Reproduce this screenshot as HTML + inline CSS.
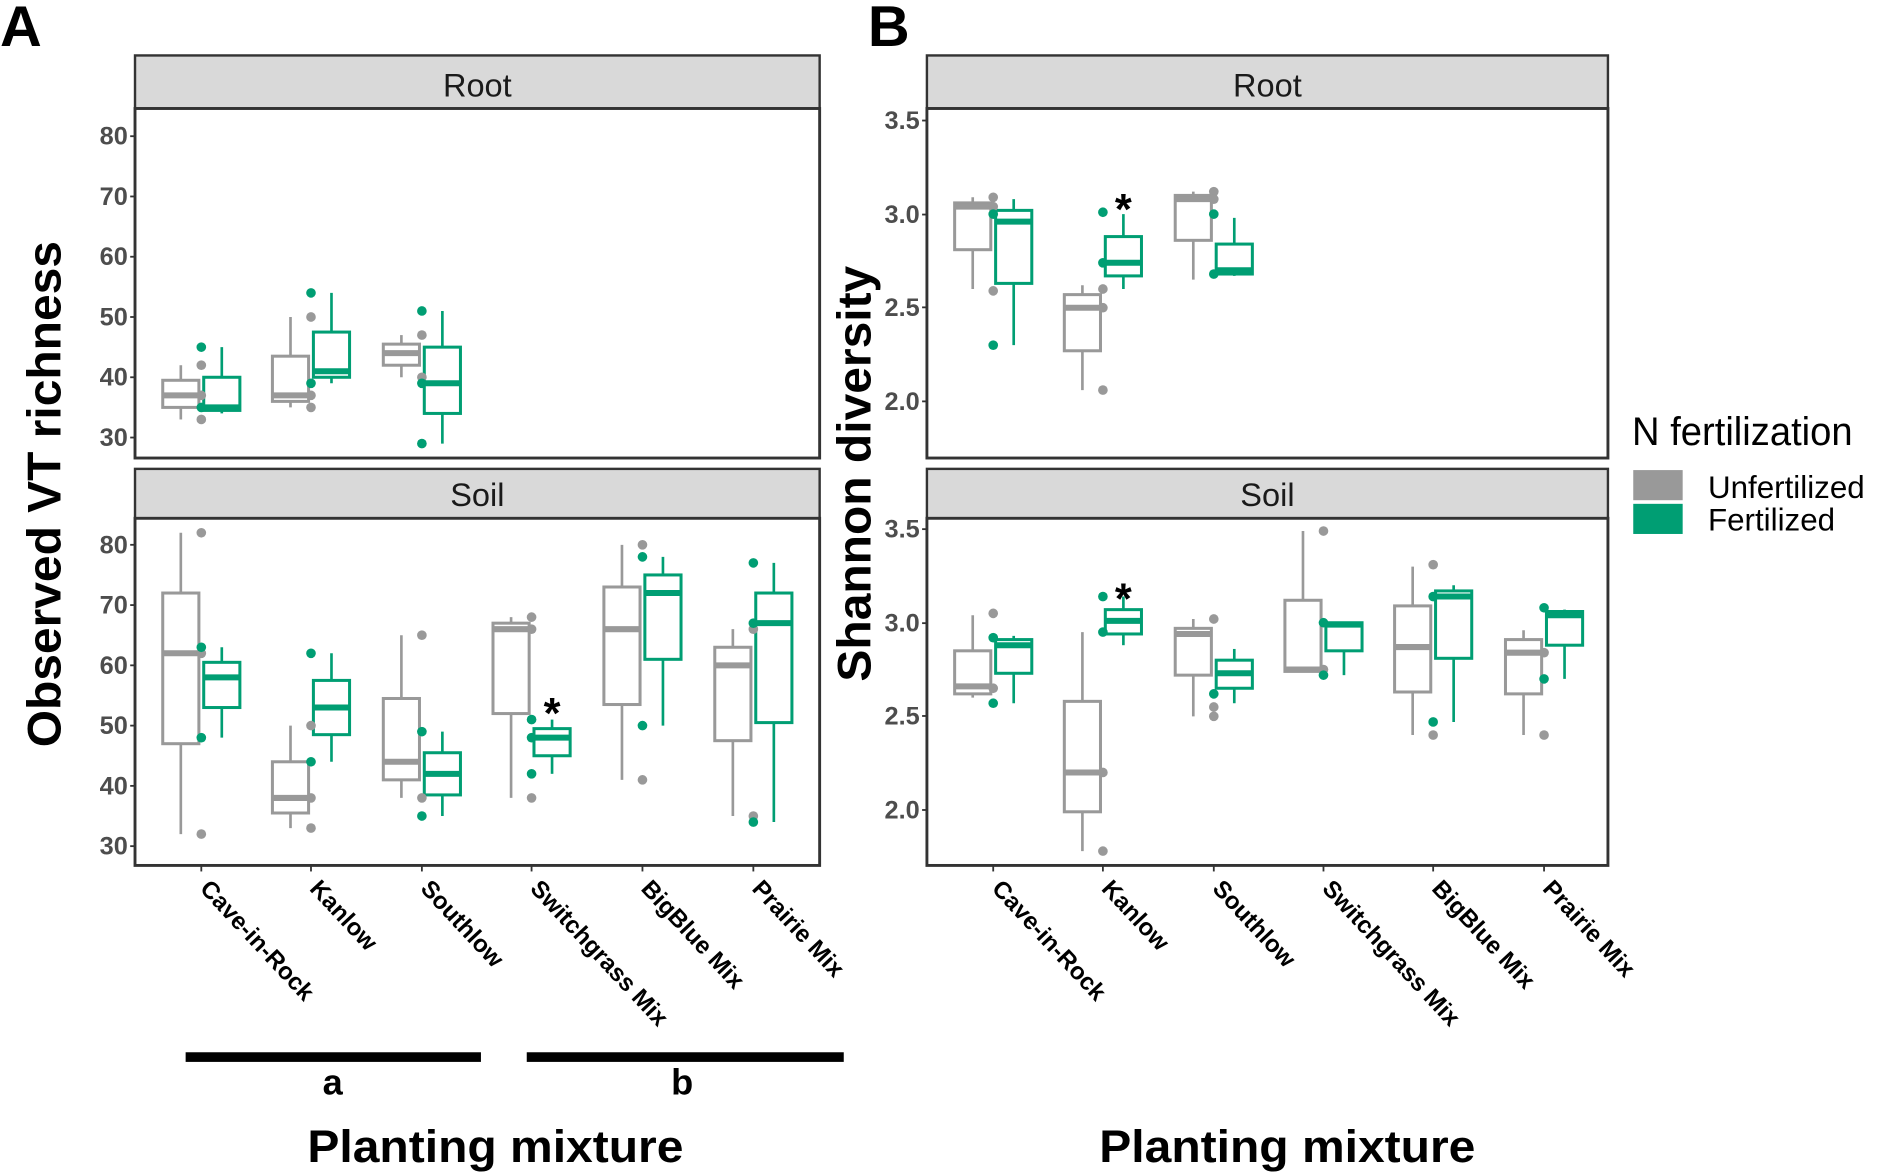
<!DOCTYPE html>
<html><head><meta charset="utf-8"><style>
html,body{margin:0;padding:0;background:#fff}
svg{display:block}
text{font-family:"Liberation Sans",Arial,sans-serif}
</style></head><body>
<svg id="s" width="1890" height="1174" viewBox="0 0 1568 974" xmlns="http://www.w3.org/2000/svg">
<rect width="1568" height="974" fill="#fff"/>
<text x="0" y="38" font-size="48" font-weight="bold">A</text>
<text x="720" y="38" font-size="48" font-weight="bold">B</text>
<text transform="translate(50,410) rotate(-90)" text-anchor="middle" font-size="39" font-weight="bold" textLength="420" lengthAdjust="spacingAndGlyphs">Observed VT richness</text>
<text transform="translate(722,393) rotate(-90)" text-anchor="middle" font-size="39" font-weight="bold" textLength="345" lengthAdjust="spacingAndGlyphs">Shannon diversity</text>
<text x="411" y="964" text-anchor="middle" font-size="38" font-weight="bold" textLength="312" lengthAdjust="spacingAndGlyphs">Planting mixture</text>
<text x="1068" y="964" text-anchor="middle" font-size="38" font-weight="bold" textLength="312" lengthAdjust="spacingAndGlyphs">Planting mixture</text>
<rect x="154" y="873" width="245" height="8" fill="#000"/>
<rect x="437" y="873" width="263" height="8" fill="#000"/>
<text x="276" y="908" text-anchor="middle" font-size="30" font-weight="bold">a</text>
<text x="566" y="908" text-anchor="middle" font-size="30" font-weight="bold">b</text>
<text x="1354" y="369" font-size="33" textLength="183" lengthAdjust="spacingAndGlyphs">N fertilization</text>
<rect x="1355" y="390" width="41" height="25" fill="#999"/>
<rect x="1355" y="418" width="41" height="25" fill="#009E73"/>
<text x="1417" y="413" font-size="26">Unfertilized</text>
<text x="1417" y="440" font-size="26">Fertilized</text>
<g id="g"></g>
</svg>
<script>
var G='#999999',N='#009E73',out='';
function strip(x0,x1,y0,y1,t){out+='<rect x="'+x0+'" y="'+y0+'" width="'+(x1-x0)+'" height="'+(y1-y0)+'" fill="#d9d9d9" stroke="#333" stroke-width="2"/>';
out+='<text x="'+((x0+x1)/2)+'" y="'+(y1-10)+'" text-anchor="middle" font-size="27" fill="#1a1a1a">'+t+'</text>';}
function panel(x0,x1,y0,y1){out+='<rect x="'+x0+'" y="'+y0+'" width="'+(x1-x0)+'" height="'+(y1-y0)+'" fill="none" stroke="#333" stroke-width="2.4"/>';}
function ticks(x0,ys,labs){for(var i=0;i<ys.length;i++){out+='<line x1="'+(x0-4)+'" x2="'+x0+'" y1="'+ys[i]+'" y2="'+ys[i]+'" stroke="#333" stroke-width="1.5"/>';
out+='<text x="'+(x0-6)+'" y="'+(ys[i]+7)+'" text-anchor="end" font-size="21" font-weight="bold" fill="#4d4d4d">'+labs[i]+'</text>';}}
function box(cx,c,f,b){var w=30,x=cx-w/2;
out+='<line x1="'+cx+'" x2="'+cx+'" y1="'+f(b[0])+'" y2="'+f(b[4])+'" stroke="'+c+'" stroke-width="2.2"/>';
out+='<rect x="'+x+'" y="'+f(b[3])+'" width="'+w+'" height="'+(f(b[1])-f(b[3]))+'" fill="#fff" stroke="'+c+'" stroke-width="2.5"/>';
out+='<line x1="'+x+'" x2="'+(x+w)+'" y1="'+f(b[2])+'" y2="'+f(b[2])+'" stroke="'+c+'" stroke-width="5"/>';}
function pts(cx,c,f,p){p.forEach(function(v){out+='<circle cx="'+cx+'" cy="'+f(v)+'" r="4" fill="'+c+'"/>';});}
function star(x,y){out+='<text x="'+x+'" y="'+y+'" text-anchor="middle" font-size="36" font-weight="bold">*</text>';}
function draw(cats,f,data){data.forEach(function(d,i){var c=cats[i];box(c-17,G,f,d[0]);box(c+17,N,f,d[2]);pts(c,G,f,d[1]);pts(c,N,f,d[3]);});}
strip(112,680,46,90,'Root');panel(112,680,90,380);
strip(112,680,389,430,'Soil');panel(112,680,430,718);
var ca=[167,258,350,441,533,625];
var fa1=function(v){return 113+(80-v)*5},fa2=function(v){return 452+(80-v)*5};
ticks(112,[113,163,213,263,313,363],[80,70,60,50,40,30]);
ticks(112,[452,502,552,602,652,702],[80,70,60,50,40,30]);
draw(ca,fa1,[
[[33,35,37,39.5,42],[42,37,33],[34,34.5,35,40,45],[45,35]],
[[35,36,37,43.5,50],[50,37,35],[39,40,41,47.5,54],[54,39]],
[[40,42,44,45.5,47],[47,40],[29,34,39,45,51],[51,39,29]]]);
draw(ca,fa2,[
[[32,47,62,72,82],[82,62,32],[48,53,58,60.5,63],[63,48]],
[[33,35.5,38,44,50],[50,38,33],[44,48.5,53,57.5,62],[62,44]],
[[38,41,44,54.5,65],[65,38],[35,38.5,42,45.5,49],[49,35]],
[[38,52,66,67,68],[68,66,38],[42,45,48,49.5,51],[51,48,42]],
[[41,53.5,66,73,80],[80,41],[50,61,72,75,78],[78,50]],
[[35,47.5,60,63,66],[66,35],[34,50.5,67,72,77],[77,67,34]]]);
star(458,604);
strip(769,1334,46,90,'Root');panel(769,1334,90,380);
strip(769,1334,389,430,'Soil');panel(769,1334,430,718);
var cb=[824,915,1007,1098,1189,1281];
var fb1=function(v){return 100+(3.5-v)*155.3},fb2=function(v){return 439+(3.5-v)*155.3};
ticks(769,[100,178,255,333],['3.5','3.0','2.5','2.0']);
ticks(769,[439,517,594,672],['3.5','3.0','2.5','2.0']);
draw(cb,fb1,[
[[2.6,2.81,3.04,3.06,3.09],[3.09,3.04,2.59],[2.3,2.63,2.96,3.02,3.08],[2.3,3.0]],
[[2.06,2.27,2.5,2.57,2.62],[2.06,2.6,2.5],[2.6,2.67,2.74,2.88,3.0],[3.01,2.74]],
[[2.65,2.86,3.08,3.1,3.12],[3.12,3.08],[2.67,2.68,2.7,2.84,2.98],[3.0,2.68]]]);
star(932,186);
draw(cb,fb2,[
[[2.6,2.62,2.66,2.85,3.04],[3.05,2.65],[2.57,2.73,2.88,2.91,2.93],[2.92,2.57]],
[[1.78,1.99,2.2,2.58,2.95],[1.78,2.2],[2.88,2.94,3.01,3.07,3.14],[3.14,2.95]],
[[2.5,2.72,2.94,2.97,3.02],[3.02,2.5,2.55],[2.57,2.65,2.73,2.8,2.86],[2.62]],
[[2.74,2.74,2.75,3.12,3.49],[3.49,2.75],[2.72,2.85,2.99,3.0,3.0],[2.72,3.0]],
[[2.4,2.63,2.87,3.09,3.3],[3.31,2.4],[2.47,2.81,3.14,3.17,3.2],[3.14,2.47]],
[[2.4,2.62,2.84,2.91,2.96],[2.4,2.84],[2.7,2.88,3.04,3.06,3.07],[3.08,2.7]]]);
star(932,509);
var names=['Cave-in-Rock','Kanlow','Southlow','Switchgrass Mix','BigBlue Mix','Prairie Mix'];
[ca,cb].forEach(function(cs){cs.forEach(function(c,i){
out+='<line x1="'+c+'" x2="'+c+'" y1="718" y2="723" stroke="#333" stroke-width="1.5"/>';
out+='<text transform="translate('+(c-2)+',738) rotate(47)" font-size="20" font-weight="bold" fill="#000">'+names[i]+'</text>';});});
document.getElementById('g').innerHTML=out;
</script>
</body></html>
